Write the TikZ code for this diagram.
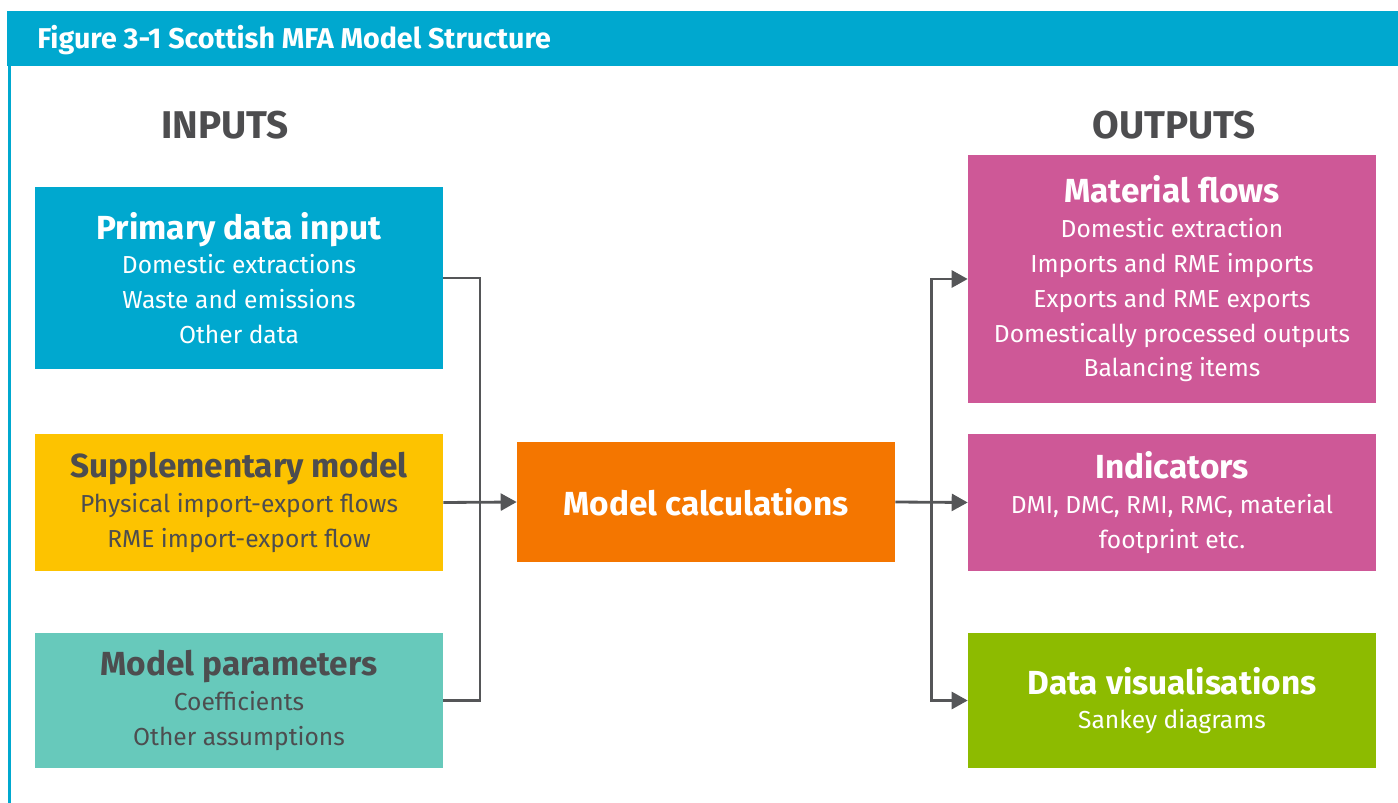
\documentclass[tikz,border=0pt]{standalone}
\usepackage{fontspec}
\setmainfont{Fira Sans}
\usetikzlibrary{arrows.meta,calc}

\definecolor{mfablue}{RGB}{0,168,207}
\definecolor{mfayellow}{RGB}{253,195,0}
\definecolor{mfateal}{RGB}{103,201,187}
\definecolor{mfaorange}{RGB}{244,118,0}
\definecolor{mfapink}{RGB}{206,88,151}
\definecolor{mfagreen}{RGB}{141,187,0}
\definecolor{mfatext}{RGB}{77,77,79}
\definecolor{mfaline}{RGB}{85,86,88}

\newcommand{\boxtitle}[1]{{\fontsize{19}{20}\selectfont\bfseries #1}}

\tikzset{
  mfabox/.style={rectangle, inner sep=0pt, align=center, minimum width=8.16cm,
    font=\fontsize{14}{19.8}\selectfont},
  flowline/.style={draw=mfaline, line width=1.6pt},
  flowarrow/.style={flowline, -{Triangle[length=0.32cm,width=0.34cm]}},
  heading/.style={font=\fontsize{22}{24}\selectfont\bfseries, text=mfatext}
}

\begin{document}
\begin{tikzpicture}[x=0.02cm, y=-0.02cm]
  \useasboundingbox (0,0) rectangle (1398,803);

  % frame and title bar
  \fill[mfablue] (7,11) rectangle (1398,66);
  \fill[mfablue] (8,66) rectangle (10.5,803);
  \node[anchor=base west, inner sep=0pt, text=white, font=\fontsize{16.3}{18}\selectfont\bfseries] (title) at (37,49)
    {Figure 3-1 Scottish MFA Model Structure};

  \node[heading, anchor=base] (inputs) at (225,139) {INPUTS};
  \node[heading, anchor=base] (outputs) at (1174,139) {OUTPUTS};

  % inputs
  \node[mfabox, fill=mfablue, text=white, minimum height=3.64cm] (prim) at (239,278)
    {\boxtitle{Primary data input}\\Domestic extractions\\Waste and emissions\\Other data};
  \node[mfabox, fill=mfayellow, text=mfatext, minimum height=2.74cm] (supp) at (239,502.5)
    {\boxtitle{Supplementary model}\\Physical import-export flows\\RME import-export flow};
  \node[mfabox, fill=mfateal, text=mfatext, minimum height=2.70cm] (param) at (239,700.5)
    {\boxtitle{Model parameters}\\Coefficients\\Other assumptions};

  % calculation step
  \node[mfabox, fill=mfaorange, text=white, minimum width=7.56cm, minimum height=2.40cm] (calc) at (706,502)
    {\boxtitle{Model calculations}};

  % outputs
  \node[mfabox, fill=mfapink, text=white, minimum height=4.96cm] (flows) at (1172,279)
    {\boxtitle{Material flows}\\Domestic extraction\\Imports and RME imports\\Exports and RME exports\\Domestically processed outputs\\Balancing items};
  \node[mfabox, fill=mfapink, text=white, minimum height=2.74cm] (ind) at (1172,502.5)
    {\boxtitle{Indicators}\\DMI, DMC, RMI, RMC, material\\footprint etc.};
  \node[mfabox, fill=mfagreen, text=white, minimum height=2.70cm] (vis) at (1172,700.5)
    {\boxtitle{Data visualisations}\\Sankey diagrams};

  % connectors
  \coordinate (ljoin) at ($(supp.east)!0.5!(calc.west)$);
  \coordinate (rjoin) at ($(calc.east)!0.5!(ind.west)$);
  \draw[flowline] (prim.east) -| (ljoin) |- (param.east);
  \draw[flowarrow] (supp.east) -- (calc.west);
  \draw[flowarrow] (calc.east) -- (ind.west);
  \draw[flowarrow] (rjoin) |- (flows.west);
  \draw[flowarrow] (rjoin) |- (vis.west);
\end{tikzpicture}
\end{document}
